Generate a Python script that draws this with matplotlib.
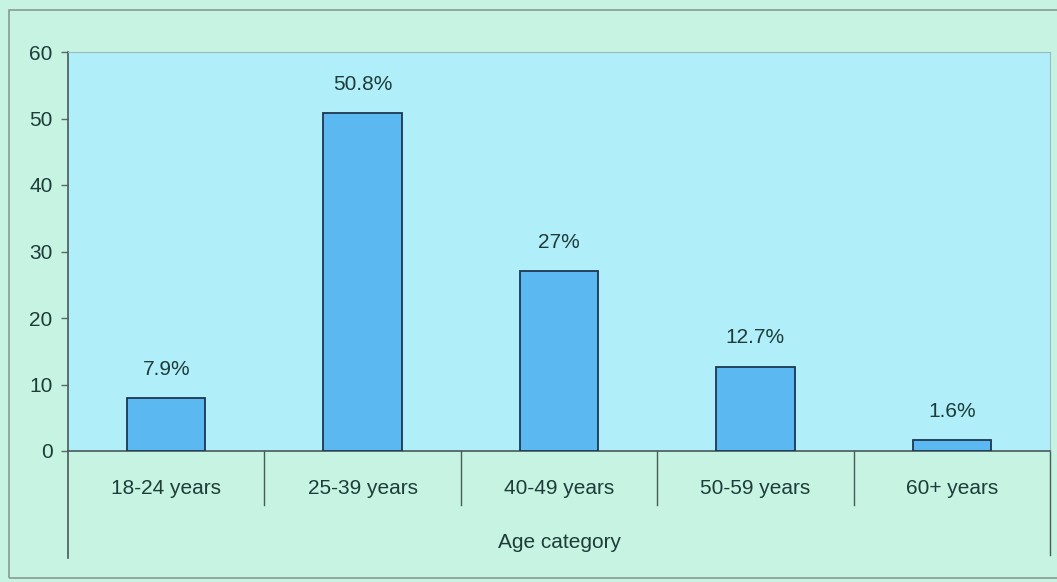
import matplotlib
matplotlib.use("Agg")
import matplotlib.pyplot as plt
from matplotlib.patches import Rectangle

categories = ["18-24 years", "25-39 years", "40-49 years", "50-59 years", "60+ years"]
values = [7.9, 50.8, 27, 12.7, 1.6]
labels = ["7.9%", "50.8%", "27%", "12.7%", "1.6%"]
yticks = [0, 10, 20, 30, 40, 50, 60]

W, H = 1057, 582
txt = "#1e3c38"
fs = 15
plt.rcParams["font.family"] = ["Liberation Sans", "DejaVu Sans"]

fig = plt.figure(figsize=(W / 100, H / 100), dpi=100)
fig.patch.set_facecolor("#c6f3e2")

# outer frame
fig.patches.append(Rectangle((9 / W, 4 / H), 1.1, 568 / H, transform=fig.transFigure,
                             fill=False, edgecolor="#8a9a96", lw=1.2))

ax = fig.add_axes([68 / W, (H - 451) / H, (1050 - 68) / W, (451 - 52) / H])
ax.set_facecolor("#b0eefa")

x = [i + 0.5 for i in range(len(categories))]
ax.bar(x, values, width=0.4, color="#5cb8f0", edgecolor="#1c3850", lw=1.3, zorder=3)
for xi, v, lab in zip(x, values, labels):
    ax.annotate(lab, (xi, v), xytext=(0, 21), textcoords="offset points",
                ha="center", va="center", fontsize=fs, color=txt)

ax.set_xlim(0, len(categories))
ax.set_ylim(0, 60)
ax.set_yticks(yticks)
ax.set_xticks(x)
ax.set_xticklabels(categories)
ax.tick_params(axis="x", length=0, pad=20, labelsize=fs, labelcolor=txt)
ax.tick_params(axis="y", length=5, width=1, color="#5a6a68", pad=6, labelsize=fs, labelcolor=txt)

for s in ["top", "right"]:
    ax.spines[s].set_color("#9fb8c0")
    ax.spines[s].set_linewidth(0.8)
ax.spines["left"].set_color("#4a5a58")
ax.spines["bottom"].set_color("#4a5a58")
ax.spines["left"].set_linewidth(1.2)
ax.spines["bottom"].set_linewidth(1.2)

# category separators below axis
tr = ax.get_xaxis_transform()
for i in range(1, len(categories)):
    ax.plot([i, i], [0, -0.135], transform=tr, color="#4a5a58", lw=1, clip_on=False)
ax.plot([0, 0], [0, -0.268], transform=tr, color="#4a5a58", lw=1.2, clip_on=False)
ax.plot([len(categories)] * 2, [0, -0.26], transform=tr, color="#4a5a58", lw=1, clip_on=False)

ax.text(0.5, -0.23, "Age category", transform=ax.transAxes, ha="center", va="center",
        fontsize=fs, color=txt)

fig.savefig("out.png", dpi=100, facecolor=fig.get_facecolor())
